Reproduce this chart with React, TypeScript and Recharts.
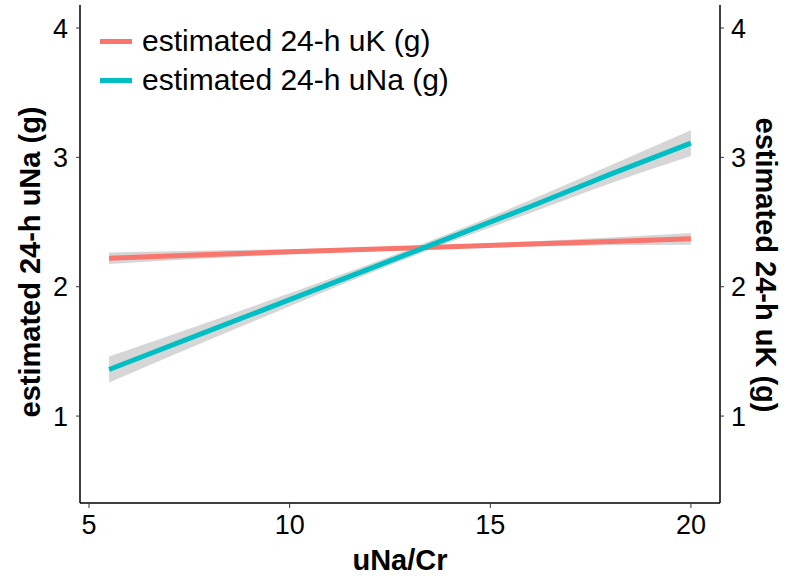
import { ComposedChart, Line, Area, XAxis, YAxis } from "recharts"

// uNa/Cr positions along the fitted lines
const xs = [5.5, 8, 10, 12, 14, 16, 18, 20]

// estimated 24-h uK (g): fit and 95% band
const uK = [2.22, 2.25, 2.27, 2.29, 2.31, 2.33, 2.35, 2.37]
const uKLow = [2.175, 2.22, 2.25, 2.275, 2.295, 2.31, 2.32, 2.325]
const uKHigh = [2.265, 2.28, 2.29, 2.305, 2.325, 2.35, 2.38, 2.415]

// estimated 24-h uNa (g): fit and 95% band
const uNa = [1.36, 1.66, 1.9, 2.14, 2.38, 2.62, 2.87, 3.11]
const uNaLow = [1.26, 1.59, 1.85, 2.105, 2.345, 2.57, 2.8, 3.01]
const uNaHigh = [1.46, 1.73, 1.95, 2.175, 2.415, 2.67, 2.94, 3.21]

const xTicks = [5, 10, 15, 20]
const yTicks = [1, 2, 3, 4]

const RED = "#F8766D"
const CYAN = "#00BFC4"
const FONT = "'Liberation Sans', Arial, sans-serif"

const data = xs.map((x, i) => ({
  x,
  uK: uK[i],
  uKBand: [uKLow[i], uKHigh[i]],
  uNa: uNa[i],
  uNaBand: [uNaLow[i], uNaHigh[i]],
}))

const tick = { fill: "#000", fontSize: 27, fontFamily: FONT }
const titleStyle: React.CSSProperties = {
  position: "absolute",
  fontFamily: FONT,
  fontWeight: "bold",
  fontSize: 29,
  color: "#000",
  whiteSpace: "nowrap",
}

export default function App() {
  return (
    <div style={{ position: "absolute", left: 0, top: 0, width: 787, height: 580, background: "#fff" }}>
      <ComposedChart
        width={787}
        height={580}
        data={data}
        margin={{ top: 5, right: 0, bottom: 0, left: 0 }}
      >
        <XAxis
          dataKey="x"
          type="number"
          domain={[4.775, 20.725]}
          ticks={xTicks}
          allowDataOverflow
          height={77}
          tick={tick}
          tickSize={5}
          tickMargin={7}
          axisLine={{ stroke: "#000", strokeWidth: 1.5 }}
          tickLine={{ stroke: "#333" }}
        />
        <YAxis
          yAxisId="left"
          type="number"
          domain={[0.328, 4.178]}
          ticks={yTicks}
          allowDataOverflow
          width={80}
          tick={tick}
          tickSize={4}
          tickMargin={8}
          axisLine={{ stroke: "#000", strokeWidth: 1.5 }}
          tickLine={{ stroke: "#333" }}
        />
        <YAxis
          yAxisId="right"
          orientation="right"
          type="number"
          domain={[0.328, 4.178]}
          ticks={yTicks}
          allowDataOverflow
          width={67}
          tick={tick}
          tickSize={4}
          tickMargin={7}
          axisLine={{ stroke: "#000", strokeWidth: 1.5 }}
          tickLine={{ stroke: "#333" }}
        />
        <Area
          yAxisId="left"
          dataKey="uKBand"
          type="monotone"
          stroke="none"
          fill="#999999"
          fillOpacity={0.4}
          isAnimationActive={false}
        />
        <Line
          yAxisId="left"
          dataKey="uK"
          type="linear"
          stroke={RED}
          strokeWidth={5}
          dot={false}
          isAnimationActive={false}
        />
        <Area
          yAxisId="left"
          dataKey="uNaBand"
          type="monotone"
          stroke="none"
          fill="#999999"
          fillOpacity={0.4}
          isAnimationActive={false}
        />
        <Line
          yAxisId="left"
          dataKey="uNa"
          type="linear"
          stroke={CYAN}
          strokeWidth={5}
          dot={false}
          isAnimationActive={false}
        />
      </ComposedChart>

      {/* legend inside the panel */}
      {[
        { label: "estimated 24-h uK (g)", color: RED, y: 41 },
        { label: "estimated 24-h uNa (g)", color: CYAN, y: 80 },
      ].map((it) => (
        <div
          key={it.label}
          style={{
            position: "absolute",
            left: 100,
            top: it.y - 18,
            height: 36,
            display: "flex",
            alignItems: "center",
            fontFamily: FONT,
            fontSize: 30,
            whiteSpace: "nowrap",
          }}
        >
          <div style={{ width: 32, height: 5, background: it.color, marginRight: 10 }} />
          {it.label}
        </div>
      ))}

      {/* axis titles */}
      <div style={{ ...titleStyle, left: 400, top: 560, transform: "translate(-50%, -50%)" }}>uNa/Cr</div>
      <div style={{ ...titleStyle, left: 30, top: 262, transform: "translate(-50%, -50%) rotate(-90deg)" }}>
        estimated 24-h uNa (g)
      </div>
      <div style={{ ...titleStyle, left: 765, top: 265, transform: "translate(-50%, -50%) rotate(90deg)" }}>
        estimated 24-h uK (g)
      </div>
    </div>
  )
}
